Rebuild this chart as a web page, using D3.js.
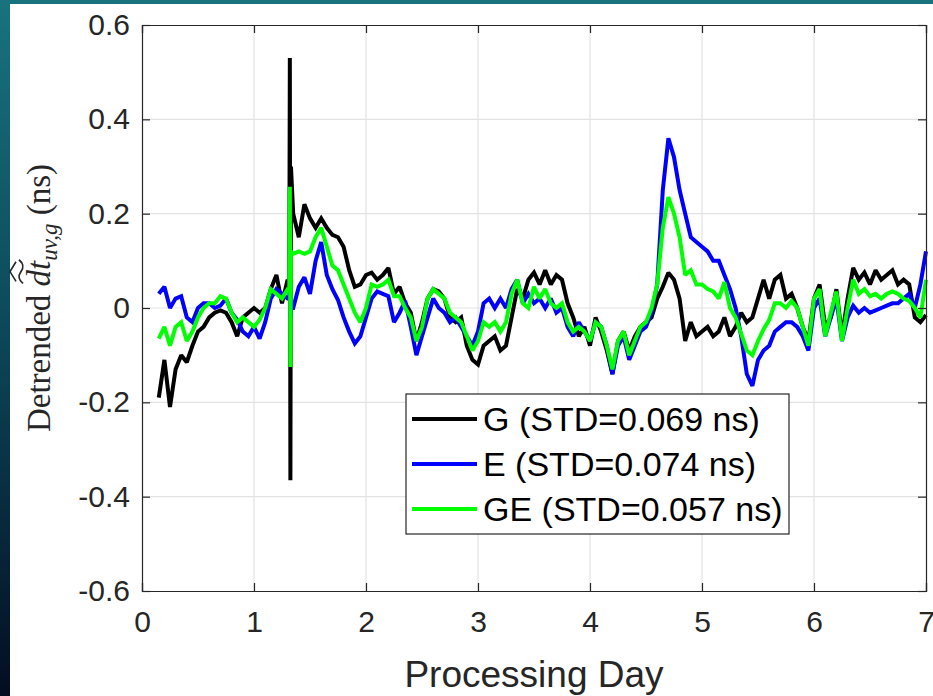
<!DOCTYPE html>
<html>
<head>
<meta charset="utf-8">
<script src="https://cdn.jsdelivr.net/npm/d3@7"></script>
<style>
  html, body { margin: 0; padding: 0; background: #fff; }
  svg { display: block; }
</style>
</head>
<body>
<div id="chart"></div>
<script>
// sample days (shared by all three series)
const days = [
  0.15, 0.2, 0.25, 0.3, 0.35, 0.4, 0.45, 0.5, 0.55, 0.6, 0.65, 0.7, 0.75, 0.8, 0.85, 0.9, 0.95, 1.0,
  1.05, 1.1, 1.15, 1.2, 1.25, 1.3, 1.315, 1.32, 1.325, 1.33, 1.35, 1.4, 1.45, 1.5, 1.55, 1.6, 1.65,
  1.7, 1.75, 1.8, 1.85, 1.9, 1.95, 2.0, 2.05, 2.1, 2.15, 2.2, 2.25, 2.3, 2.35, 2.4, 2.45, 2.5, 2.55,
  2.6, 2.65, 2.7, 2.75, 2.8, 2.85, 2.9, 2.95, 3.0, 3.05, 3.1, 3.15, 3.2, 3.25, 3.3, 3.35, 3.4, 3.45,
  3.5, 3.55, 3.6, 3.65, 3.7, 3.75, 3.8, 3.85, 3.9, 3.95, 4.0, 4.05, 4.1, 4.15, 4.2, 4.25, 4.3, 4.35,
  4.4, 4.45, 4.5, 4.55, 4.6, 4.65, 4.7, 4.75, 4.8, 4.85, 4.9, 4.95, 5.0, 5.05, 5.1, 5.15, 5.2, 5.25,
  5.3, 5.35, 5.4, 5.45, 5.5, 5.55, 5.6, 5.65, 5.7, 5.75, 5.8, 5.85, 5.9, 5.95, 6.0, 6.05, 6.1, 6.15,
  6.2, 6.25, 6.3, 6.35, 6.4, 6.45, 6.5, 6.55, 6.6, 6.65, 6.7, 6.75, 6.8, 6.85, 6.9, 6.95, 7.0
];

const gValues = [
  -0.19, -0.11, -0.21, -0.13, -0.10, -0.115, -0.08, -0.05, -0.04, -0.02, -0.01, -0.005, -0.01, -0.03, -0.06, -0.02, -0.01, 0.0,
  -0.01, 0.0, 0.04, 0.07, 0.01, 0.06, 0.05, 0.53, -0.365, 0.3, 0.2, 0.15, 0.22, 0.19, 0.17, 0.19, 0.17,
  0.155, 0.15, 0.13, 0.08, 0.045, 0.05, 0.07, 0.075, 0.06, 0.07, 0.085, 0.03, 0.045, 0.01, -0.01, -0.07, -0.03, 0.02,
  0.04, 0.035, 0.02, -0.02, -0.03, -0.02, -0.08, -0.11, -0.12, -0.08, -0.07, -0.06, -0.09, -0.08, -0.02, 0.04, 0.02, 0.06,
  0.075, 0.05, 0.08, 0.05, 0.07, 0.06, 0.01, -0.02, -0.06, -0.04, -0.08, -0.02, -0.05, -0.09, -0.14, -0.07, -0.05, -0.09,
  -0.06, -0.04, -0.03, -0.02, 0.02, 0.045, 0.075, 0.06, 0.02, -0.07, -0.03, -0.06, -0.05, -0.04, -0.06, -0.05, -0.02, -0.06,
  -0.04, -0.01, -0.03, -0.02, 0.02, 0.06, 0.02, 0.06, 0.07, 0.02, 0.03, 0.0, -0.04, -0.07, 0.02, 0.05, -0.04, -0.02,
  0.04, -0.06, 0.02, 0.085, 0.06, 0.075, 0.05, 0.08, 0.06, 0.07, 0.08, 0.05, 0.06, 0.05, -0.02, -0.03, -0.015
];

const eValues = [
  0.03, 0.045, 0.0, 0.02, 0.025, -0.02, -0.03, 0.0, 0.01, 0.01, 0.0, 0.005, 0.02, -0.01, -0.025, -0.05, -0.06, -0.04,
  -0.065, -0.03, 0.02, 0.04, 0.03, 0.02, 0.02, 0.05, -0.02, 0.0, 0.0, 0.045, 0.065, 0.03, 0.1, 0.14, 0.07,
  0.04, 0.017, -0.02, -0.05, -0.075, -0.06, -0.02, 0.02, 0.035, 0.03, 0.025, -0.03, -0.01, 0.015, -0.04, -0.1, -0.06, -0.02,
  0.02, 0.0, -0.01, -0.03, -0.02, -0.04, -0.06, -0.08, -0.05, 0.01, 0.02, 0.0, 0.02, 0.0, 0.04, 0.06, 0.01, 0.03,
  0.01, 0.02, 0.0, 0.02, -0.01, 0.0, -0.04, -0.06, -0.03, -0.05, -0.07, -0.03, -0.04, -0.08, -0.14, -0.08, -0.06, -0.11,
  -0.08, -0.05, -0.04, -0.01, 0.05, 0.25, 0.36, 0.32, 0.25, 0.2, 0.15, 0.14, 0.13, 0.12, 0.1, 0.1, 0.07, 0.04,
  0.0, -0.06, -0.14, -0.165, -0.11, -0.09, -0.08, -0.05, -0.04, -0.03, -0.03, -0.04, -0.06, -0.09, 0.0, 0.02, -0.06, -0.02,
  0.02, -0.07, -0.02, 0.005, -0.01, 0.0, -0.01, -0.005, 0.0, 0.005, 0.01, 0.01, 0.02, 0.03, 0.0, 0.05, 0.12
];

const geValues = [
  -0.065, -0.04, -0.08, -0.04, -0.03, -0.07, -0.05, -0.02, 0.0, 0.01, 0.01, 0.025, 0.02, -0.01, -0.03, -0.02, -0.03, -0.04,
  -0.025, 0.0, 0.04, 0.03, 0.02, 0.04, 0.04, 0.257, -0.125, 0.12, 0.115, 0.12, 0.115, 0.12, 0.15, 0.17, 0.13,
  0.09, 0.08, 0.05, 0.02, -0.01, -0.03, 0.0, 0.05, 0.045, 0.05, 0.06, 0.025, 0.025, 0.0, -0.02, -0.07, -0.04, 0.02,
  0.04, 0.03, 0.02, -0.01, -0.02, -0.03, -0.06, -0.09, -0.07, -0.03, -0.04, -0.03, -0.05, -0.03, 0.03, 0.06, 0.01, 0.0,
  0.045, 0.02, 0.04, 0.01, 0.0, 0.01, -0.03, -0.05, -0.04, -0.05, -0.07, -0.03, -0.04, -0.08, -0.13, -0.07, -0.05, -0.1,
  -0.07, -0.04, -0.03, 0.0, 0.05, 0.17, 0.235, 0.2, 0.15, 0.07, 0.08, 0.05, 0.05, 0.04, 0.035, 0.02, 0.055, 0.0,
  -0.02, -0.055, -0.09, -0.1, -0.07, -0.045, -0.025, 0.01, 0.01, 0.0, 0.015, 0.0, -0.04, -0.08, 0.02, 0.04, -0.06, -0.01,
  0.035, -0.07, 0.0, 0.06, 0.03, 0.04, 0.025, 0.03, 0.02, 0.03, 0.035, 0.03, 0.02, 0.015, 0.0, -0.02, 0.06
];

const seriesNames = ["G (STD=0.069 ns)", "E (STD=0.074 ns)", "GE (STD=0.057 ns)"];
const seriesColors = ["#000000", "#0000ff", "#00ff00"];
const xTicks = [0, 1, 2, 3, 4, 5, 6, 7];
const yTicks = [-0.6, -0.4, -0.2, 0, 0.2, 0.4, 0.6];

const W = 933, H = 696;
const plot = { left: 142, right: 926, top: 25, bottom: 591 };

const svg = d3.select("#chart").append("svg")
    .attr("width", W)
    .attr("height", H);

// slide background strips (top and left)
const defs = svg.append("defs");
const grad = defs.append("linearGradient")
    .attr("id", "edge")
    .attr("x1", 0).attr("y1", 0).attr("x2", 0).attr("y2", 1);
grad.append("stop").attr("offset", "0%").attr("stop-color", "#18737f");
grad.append("stop").attr("offset", "45%").attr("stop-color", "#0d4a5c");
grad.append("stop").attr("offset", "100%").attr("stop-color", "#040d22");

svg.append("rect").attr("x", 0).attr("y", 0).attr("width", W).attr("height", 4).attr("fill", "#18737f");
svg.append("rect").attr("x", 0).attr("y", 0).attr("width", 10).attr("height", H).attr("fill", "url(#edge)");

const x = d3.scaleLinear().domain([0, 7]).range([plot.left, plot.right]);
const y = d3.scaleLinear().domain([-0.6, 0.6]).range([plot.bottom, plot.top]);

// grid
const grid = svg.append("g").attr("class", "grid");
grid.selectAll(".gx")
    .data(xTicks.slice(1, -1))
    .enter().append("line")
    .attr("x1", d => x(d)).attr("x2", d => x(d))
    .attr("y1", plot.top).attr("y2", plot.bottom)
    .style("stroke", "#e3e3e3").style("stroke-width", 1.2);
grid.selectAll(".gy")
    .data(yTicks.slice(1, -1))
    .enter().append("line")
    .attr("x1", plot.left).attr("x2", plot.right)
    .attr("y1", d => y(d)).attr("y2", d => y(d))
    .style("stroke", "#e3e3e3").style("stroke-width", 1.2);

// series
const line = d3.line()
    .x(d => x(d[0]))
    .y(d => y(d[1]));

[gValues, eValues, geValues].forEach((vals, i) => {
    svg.append("path")
        .datum(days.map((d, k) => [d, vals[k]]))
        .attr("d", line)
        .attr("fill", "none")
        .attr("stroke", seriesColors[i])
        .attr("stroke-width", 4)
        .attr("stroke-linejoin", "miter")
        .attr("stroke-miterlimit", 2);
});

// axes (MATLAB style: ticks inside, box)
const axisColor = "#262626";
const fontSans = "'Liberation Sans', Arial, Helvetica, sans-serif";
const yFmt = d => d === 0 ? "0" : d3.format(".1f")(d).replace("\u2212", "-");

const xAxis = svg.append("g")
    .attr("transform", `translate(0, ${plot.bottom})`)
    .call(d3.axisBottom(x).tickValues(xTicks).tickSize(-8).tickPadding(20).tickFormat(d3.format("d")));
const yAxis = svg.append("g")
    .attr("transform", `translate(${plot.left}, 0)`)
    .call(d3.axisLeft(y).tickValues(yTicks).tickSize(-8).tickPadding(12).tickFormat(yFmt));
const xTop = svg.append("g")
    .attr("transform", `translate(0, ${plot.top})`)
    .call(d3.axisTop(x).tickValues(xTicks).tickSize(-8).tickFormat(""));
const yRight = svg.append("g")
    .attr("transform", `translate(${plot.right}, 0)`)
    .call(d3.axisRight(y).tickValues(yTicks).tickSize(-8).tickFormat(""));

[xAxis, yAxis, xTop, yRight].forEach(a => {
    a.select(".domain").attr("stroke", axisColor).attr("stroke-width", 1.2);
    a.selectAll(".tick line").attr("stroke", axisColor).attr("stroke-width", 1.2);
    a.selectAll(".tick text")
        .style("font-family", fontSans)
        .style("font-size", "30px")
        .attr("fill", axisColor);
});

// axis labels
svg.append("text")
    .attr("x", (plot.left + plot.right) / 2)
    .attr("y", 687)
    .attr("text-anchor", "middle")
    .style("font-family", fontSans)
    .style("font-size", "37px")
    .attr("fill", axisColor)
    .text("Processing Day");

const serif = "'Liberation Serif', 'DejaVu Serif', serif";
const ylab = svg.append("g").attr("transform", "translate(50, 298) rotate(-90)");
const ylabText = ylab.append("text")
    .attr("x", 0).attr("y", 0)
    .attr("text-anchor", "middle")
    .style("font-family", serif)
    .style("font-size", "33px")
    .attr("fill", axisColor);
ylabText.append("tspan").text("Detrended ");
ylabText.append("tspan").style("font-style", "italic").text("dt");
ylabText.append("tspan").style("font-style", "italic").style("font-size", "23px").attr("dy", 7).text("uv,g");
ylabText.append("tspan").attr("dy", -7).text(" (ns)");

// wide tilde and hat over "dt"
const start = "Detrended ".length;
const cA = ylabText.node().getExtentOfChar(start);
const cB = ylabText.node().getExtentOfChar(start + 1);
const x0 = cA.x + 3, x1 = cB.x + cB.width + 1;
const xm = (x0 + x1) / 2;
ylab.append("path")
    .attr("d", `M${x0},-27 C${x0 + 5},-33 ${xm - 3},-31 ${xm},-29 S${x1 - 5},-25 ${x1},-31`)
    .attr("fill", "none")
    .attr("stroke", axisColor)
    .attr("stroke-width", 1.8);
ylab.append("path")
    .attr("d", `M${x0 + 2},-34 L${xm},-40 L${x1 - 2},-34`)
    .attr("fill", "none")
    .attr("stroke", axisColor)
    .attr("stroke-width", 1.6);

// legend
const legend = svg.append("g").attr("transform", "translate(406, 394)");
legend.append("rect")
    .attr("width", 383).attr("height", 140)
    .attr("fill", "#fff")
    .attr("stroke", axisColor)
    .attr("stroke-width", 1.2);
const items = legend.selectAll(".item")
    .data(seriesNames)
    .enter().append("g")
    .attr("transform", (d, i) => `translate(0, ${25 + i * 45})`);
items.append("line")
    .attr("x1", 6).attr("x2", 71)
    .attr("stroke", (d, i) => seriesColors[i])
    .attr("stroke-width", 4);
items.append("text")
    .attr("x", 77)
    .attr("dy", "0.36em")
    .style("font-family", fontSans)
    .style("font-size", "34px")
    .attr("fill", "#000")
    .text(d => d);
</script>
</body>
</html>
